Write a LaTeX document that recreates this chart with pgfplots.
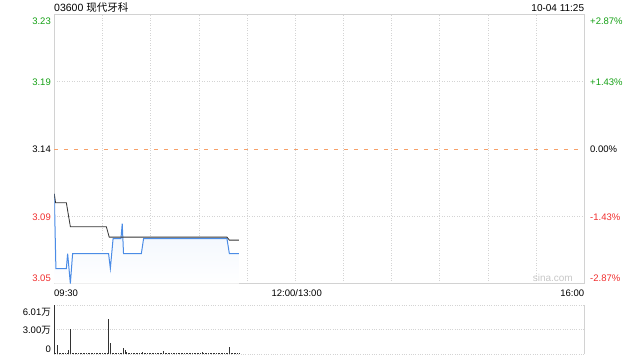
\documentclass[border=0pt]{standalone}
\usepackage{pgfplots}
\pgfplotsset{compat=1.18}
\usepackage{fontspec}
\setmainfont{Liberation Sans}
\newfontfamily\cjk{Noto Sans CJK SC}
\definecolor{upgreen}{RGB}{20,160,20}
\definecolor{downred}{RGB}{240,45,45}
\definecolor{pline}{RGB}{75,140,230}
\definecolor{avgline}{RGB}{50,50,50}
\definecolor{gridc}{RGB}{212,212,212}
\definecolor{framec}{RGB}{210,210,210}
\definecolor{prevc}{RGB}{247,160,105}
\definecolor{fillc}{RGB}{234,242,253}
\begin{document}
\begin{tikzpicture}[font=\fontsize{9.5}{11}\selectfont]
\useasboundingbox (0pt,0pt) rectangle (640pt,360pt);
% ---------- price chart ----------
\begin{axis}[at={(54.3pt,76.5pt)}, anchor=south west, scale only axis,
  width=530pt, height=269.2pt,
  xmin=0, xmax=330, ymin=3.05, ymax=3.23,
  xtick={30,60,...,300}, ytick={3.095,3.185},
  extra y ticks={3.14}, extra y tick labels={},
  extra y tick style={grid style={prevc, dash pattern=on 4pt off 6pt, line width=0.8pt}},
  xticklabels={}, yticklabels={}, major tick length=0pt,
  grid=major, grid style={gridc, dash pattern=on 0.7pt off 1.8pt, line width=0.6pt},
  axis line style={framec, line width=0.8pt}]
\addplot[draw=none, top color=fillc, bottom color=white] coordinates {
(0,3.11) (1,3.06) (7.5,3.06) (8.3,3.07) (10,3.05) (11.4,3.07) (33.8,3.07) (34.9,3.06) (36.6,3.08) (41.5,3.08) (42.3,3.09) (43.1,3.07) (54.2,3.07) (55.6,3.08) (107.5,3.08) (109,3.07) (115,3.07) (115,3.05) (0,3.05)};
\addplot[pline, line width=1pt, no marks] coordinates {
(0,3.11) (1,3.06) (7.5,3.06) (8.3,3.07) (10,3.05) (11.4,3.07) (33.8,3.07) (34.9,3.06) (36.6,3.08) (41.5,3.08) (42.3,3.09) (43.1,3.07) (54.2,3.07) (55.6,3.08) (107.5,3.08) (109,3.07) (115,3.07)};
\addplot[avgline, line width=0.8pt, no marks] coordinates {
(0,3.11) (0.8,3.104) (7.5,3.104) (10,3.088) (32.4,3.088) (34.2,3.081) (107.5,3.081) (109,3.079) (115,3.079)};
\end{axis}
% ---------- volume chart ----------
\begin{axis}[at={(54.3pt,6pt)}, anchor=south west, scale only axis,
  width=530pt, height=49pt,
  xmin=0, xmax=330, ymin=0, ymax=6.01,
  xtick=\empty, ytick={0,3.005,6.01}, yticklabels={}, major tick length=0pt,
  ymajorgrids, grid style={gridc, dash pattern=on 0.7pt off 1.6pt, line width=0.8pt},
  axis line style={draw=none}, clip=false]
\draw[framec, line width=0.8pt] (rel axis cs:1,0) -- (rel axis cs:1,1);
\addplot[ycomb, no marks, avgline, line width=0.9pt] coordinates {
(0,6.01) (1,0.15) (2,1.10) (3,0.12) (4,0.10) (5,0.12) (6,0.10) (7,0.15) (8,0.12) (9,0.50)
(10,3.07) (11,0.15) (12,0.10) (13,0.12) (14,0.10) (15,0.10) (16,0.12) (17,0.10) (18,0.12) (19,0.10)
(20,0.10) (21,0.12) (22,0.10) (23,0.10) (24,0.12) (25,0.10) (26,0.10) (27,0.12) (28,0.10) (29,0.10)
(30,0.12) (31,0.10) (32,0.12) (33,0.10) (34,4.30) (35,1.40) (36,0.15) (37,0.12) (38,0.10) (39,0.12)
(40,0.10) (41,0.12) (42,0.15) (43,0.70) (44,0.50) (45,0.20) (46,0.12) (47,0.10) (48,0.12) (49,0.10)
(50,0.10) (51,0.12) (52,0.10) (53,0.12) (54,0.10) (55,0.20) (56,0.12) (57,0.10) (58,0.10) (59,0.12)
(60,0.10) (61,0.10) (62,0.12) (63,0.10) (64,0.12) (65,0.10) (66,0.10) (67,0.12) (68,0.40) (69,0.12)
(70,0.10) (71,0.12) (72,0.10) (73,0.10) (74,0.12) (75,0.10) (76,0.10) (77,0.12) (78,0.10) (79,0.12)
(80,0.10) (81,0.10) (82,0.12) (83,0.10) (84,0.12) (85,0.10) (86,0.10) (87,0.12) (88,0.10) (89,0.12)
(90,0.10) (91,0.12) (92,0.25) (93,0.12) (94,0.10) (95,0.10) (96,0.12) (97,0.10) (98,0.12) (99,0.10)
(100,0.10) (101,0.12) (102,0.10) (103,0.12) (104,0.10) (105,0.10) (106,0.12) (107,0.10) (108,0.15) (109,0.90)
(110,0.12) (111,0.10) (112,0.12) (113,0.10) (114,0.12) (115,0.10)};
\end{axis}
% ---------- texts ----------
\node[anchor=base west, inner sep=0pt, font=\fontsize{10.5}{12}\selectfont] at (54pt,348.3pt) {03600 {\cjk 现代牙科}};
\node[anchor=base east, inner sep=0pt, font=\fontsize{10}{12}\selectfont] at (584.3pt,348.3pt) {10-04 11:25};
% left price labels
\node[anchor=base east, inner sep=0pt, text=upgreen] at (51pt,336pt) {3.23};
\node[anchor=base east, inner sep=0pt, text=upgreen] at (51pt,274.3pt) {3.19};
\node[anchor=base east, inner sep=0pt, text=black] at (51pt,207.7pt) {3.14};
\node[anchor=base east, inner sep=0pt, text=downred] at (51pt,140pt) {3.09};
\node[anchor=base east, inner sep=0pt, text=downred] at (51pt,79pt) {3.05};
% right percent labels
\node[anchor=base west, inner sep=0pt, text=upgreen] at (590pt,336pt) {+2.87\%};
\node[anchor=base west, inner sep=0pt, text=upgreen] at (590pt,274.3pt) {+1.43\%};
\node[anchor=base west, inner sep=0pt, text=black] at (590pt,207.7pt) {0.00\%};
\node[anchor=base west, inner sep=0pt, text=downred] at (590pt,140pt) {-1.43\%};
\node[anchor=base west, inner sep=0pt, text=downred] at (590pt,79pt) {-2.87\%};
% watermark
\node[anchor=base east, inner sep=0pt, text=black!22, font=\fontsize{10}{12}\selectfont] at (573pt,79pt) {sina.com};
% time labels
\node[anchor=base west, inner sep=0pt] at (54pt,63.3pt) {09:30};
\node[anchor=base, inner sep=0pt] at (296.7pt,63.3pt) {12:00/13:00};
\node[anchor=base east, inner sep=0pt] at (584.3pt,63.3pt) {16:00};
% volume labels
\node[anchor=base east, inner sep=0pt] at (51pt,44.3pt) {6.01{\cjk 万}};
\node[anchor=base east, inner sep=0pt] at (51pt,26.7pt) {3.00{\cjk 万}};
\node[anchor=base east, inner sep=0pt] at (51pt,8pt) {0};
\end{tikzpicture}
\end{document}
